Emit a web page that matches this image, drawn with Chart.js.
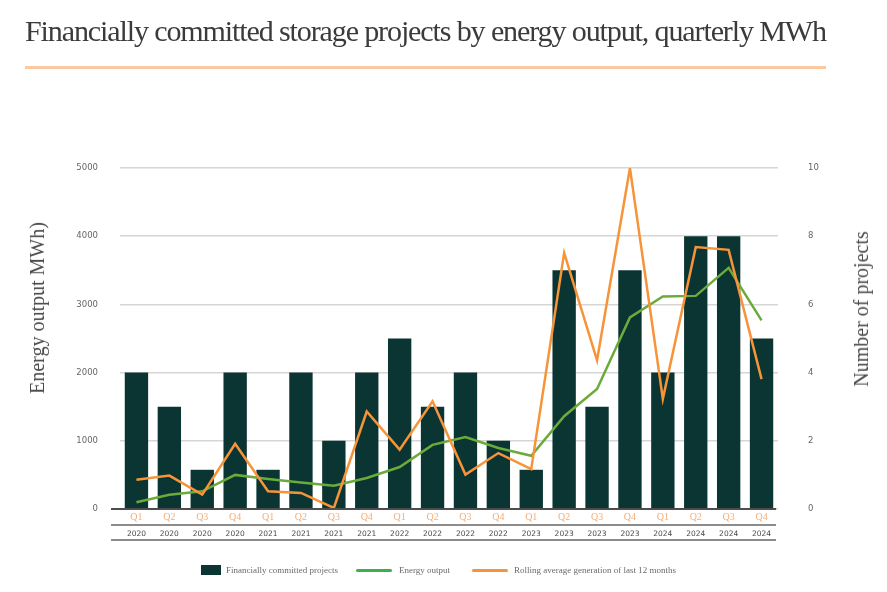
<!DOCTYPE html>
<html>
<head>
<meta charset="utf-8">
<script src="https://cdn.jsdelivr.net/npm/chart.js@4"></script>
<style>
  html, body { margin: 0; padding: 0; background: #ffffff; }
  #wrap { position: relative; width: 887px; height: 592px; overflow: hidden; }
  #c { position: absolute; left: 0; top: 0; }
  #title { position: absolute; left: 25px; top: 16px; font-family: "Liberation Serif", serif; font-size: 29px; letter-spacing: -1.1px; line-height: 30px; color: #3b3b3b; white-space: nowrap; transform-origin: 0 0; }
  #rule { position: absolute; left: 25px; top: 66px; width: 801px; height: 3px; background: #fbc8a0; }
  .ytitle { position: absolute; font-family: "Liberation Serif", serif; font-size: 20px; color: #4a4a4a; white-space: nowrap; transform: translate(-50%, -50%) rotate(-90deg); line-height: 20px; }
  .lg { position: absolute; font-family: "Liberation Serif", serif; font-size: 9px; color: #6a6a6a; white-space: nowrap; line-height: 10px; }
  .sw { position: absolute; }
</style>
</head>
<body>
<div id="wrap">
  <canvas id="c" width="887" height="592"></canvas>
  <div id="title">Financially committed storage projects by energy output, quarterly MWh</div>
  <div id="rule"></div>
  <div class="ytitle" style="left:37px; top:308px;">Energy output MWh)</div>
  <div class="ytitle" style="left:861px; top:309px;">Number of projects</div>
  <div class="sw" style="left:201px; top:565px; width:20px; height:10px; background:#0b3532;"></div>
  <div class="lg" style="left:226px; top:565px;">Financially committed projects</div>
  <div class="sw" style="left:356px; top:569px; width:36px; height:3px; background:#3cb04e; border-radius:2px;"></div>
  <div class="lg" style="left:399px; top:565px;">Energy output</div>
  <div class="sw" style="left:472px; top:569px; width:36px; height:3px; background:#f7943a; border-radius:2px;"></div>
  <div class="lg" style="left:514px; top:565px;">Rolling average generation of last 12 months</div>
</div>
<script>
// ---- data ----
const quarters = ['Q1','Q2','Q3','Q4','Q1','Q2','Q3','Q4','Q1','Q2','Q3','Q4','Q1','Q2','Q3','Q4','Q1','Q2','Q3','Q4'];
const years = ['2020','2020','2020','2020','2021','2021','2021','2021','2022','2022','2022','2022','2023','2023','2023','2023','2024','2024','2024','2024'];
const committedProjects = [4, 3, 1.15, 4, 1.15, 4, 2, 4, 5, 3, 4, 2, 1.15, 7, 3, 7, 4, 8, 8, 5];
const energyOutput = [100, 210, 260, 500, 440, 390, 340, 455, 615, 940, 1055, 895, 780, 1360, 1760, 2810, 3115, 3125, 3535, 2765];
const rollingAverage = [430, 490, 210, 955, 260, 235, 15, 1430, 870, 1580, 505, 820, 585, 3755, 2180, 5000, 1615, 3840, 3800, 1905];
const leftTicks = [0, 1000, 2000, 3000, 4000, 5000];
const rightTicks = [0, 2, 4, 6, 8, 10];

// fit title width
(function () {
  const t = document.getElementById('title');
  const w = t.getBoundingClientRect().width;
  t.style.transform = 'scaleX(' + (801 / w) + ')';
})();

const axisLines = {
  id: 'axisLines',
  afterDatasetsDraw(chart) {
    const ctx = chart.ctx;
    const ya = chart.scales.xYear;
    ctx.save();
    ctx.lineWidth = 2;
    ctx.strokeStyle = '#4d4d4d';
    ctx.beginPath(); ctx.moveTo(111, chart.chartArea.bottom); ctx.lineTo(776, chart.chartArea.bottom); ctx.stroke();
    ctx.strokeStyle = '#8c8c8c';
    ctx.beginPath(); ctx.moveTo(111, ya.top); ctx.lineTo(776, ya.top); ctx.stroke();
    ctx.beginPath(); ctx.moveTo(111, ya.bottom - 1); ctx.lineTo(776, ya.bottom - 1); ctx.stroke();
    ctx.restore();
  }
};

new Chart(document.getElementById('c'), {
  data: {
    labels: quarters,
    datasets: [
      { type: 'line', label: 'Rolling average generation of last 12 months', data: rollingAverage, xAxisID: 'x', yAxisID: 'y', borderColor: '#f7943a', borderWidth: 2.5, pointRadius: 0, tension: 0, order: 1 },
      { type: 'line', label: 'Energy output', data: energyOutput, xAxisID: 'x', yAxisID: 'y', borderColor: '#6aab3c', borderWidth: 2.5, pointRadius: 0, tension: 0, order: 2 },
      { type: 'bar', label: 'Financially committed projects', data: committedProjects, xAxisID: 'x', yAxisID: 'y1', backgroundColor: '#0b3532', categoryPercentage: 1, barPercentage: 0.71, order: 3 }
    ]
  },
  options: {
    responsive: false,
    animation: false,
    layout: { padding: { top: 168, bottom: 51, left: 0, right: 0 } },
    plugins: { legend: { display: false }, tooltip: { enabled: false } },
    scales: {
      x: {
        type: 'category', position: 'bottom', weight: 0, offset: true,
        grid: { display: false }, border: { display: false },
        ticks: { color: '#f6ad74', font: { family: 'Liberation Serif', size: 10 }, padding: -6, maxRotation: 0, autoSkip: false },
        afterFit: s => { s.height = 16; }
      },
      xYear: {
        type: 'category', position: 'bottom', weight: 1, offset: true, labels: years,
        grid: { display: false }, border: { display: false },
        ticks: { color: '#4a4a4a', font: { family: 'DejaVu Sans', size: 7.5 }, padding: -3, maxRotation: 0, autoSkip: false },
        afterFit: s => { s.height = 16; }
      },
      y: {
        position: 'left', min: 0, max: 5000,
        afterBuildTicks: s => { s.ticks = leftTicks.map(v => ({ value: v })); },
        grid: { color: '#d6d6d6', lineWidth: 1.5, drawTicks: false },
        border: { display: false },
        ticks: { color: '#666666', font: { family: 'DejaVu Sans', size: 8.5 }, padding: 22, callback: v => String(v) },
        afterFit: s => { s.width = 120; }
      },
      y1: {
        position: 'right', min: 0, max: 10,
        afterBuildTicks: s => { s.ticks = rightTicks.map(v => ({ value: v })); },
        grid: { drawOnChartArea: false, drawTicks: false },
        border: { display: false },
        ticks: { color: '#666666', font: { family: 'DejaVu Sans', size: 8.5 }, padding: 30, callback: v => String(v) },
        afterFit: s => { s.width = 109; }
      }
    }
  },
  plugins: [axisLines]
});
</script>
</body>
</html>
